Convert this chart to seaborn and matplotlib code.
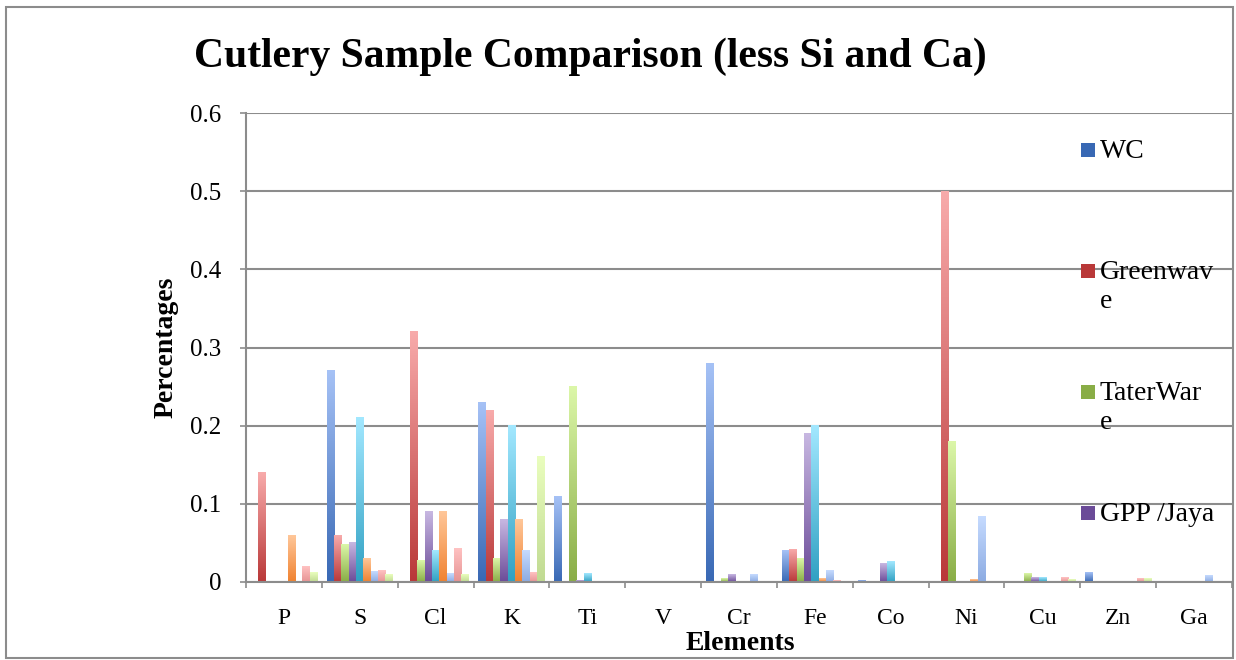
import numpy as np
import pandas as pd
import matplotlib
matplotlib.use("Agg")
import matplotlib.pyplot as plt
import seaborn as sns
from matplotlib.colors import LinearSegmentedColormap
from matplotlib.patches import Rectangle

elements = ["P", "S", "Cl", "K", "Ti", "V", "Cr", "Fe", "Co", "Ni", "Cu", "Zn", "Ga"]

wc = [0, 0.27, 0, 0.23, 0.11, 0, 0.28, 0.04, 0.002, 0, 0, 0.012, 0]
greenwave = [0.14, 0.06, 0.32, 0.22, 0, 0, 0, 0.042, 0, 0.5, 0, 0, 0]
taterware = [0, 0.048, 0.027, 0.03, 0.25, 0, 0.005, 0.03, 0, 0.18, 0.011, 0, 0]
gpp_jaya = [0, 0.05, 0.09, 0.08, 0.002, 0, 0.009, 0.19, 0.024, 0, 0.006, 0, 0]
sample5 = [0, 0.21, 0.04, 0.2, 0.011, 0, 0, 0.2, 0.026, 0, 0.006, 0, 0]
sample6 = [0.06, 0.03, 0.09, 0.08, 0, 0, 0, 0.004, 0, 0.003, 0, 0, 0]
sample7 = [0, 0.013, 0.011, 0.04, 0, 0, 0.009, 0.015, 0, 0.084, 0, 0, 0.008]
sample8 = [0.02, 0.015, 0.043, 0.012, 0.001, 0, 0, 0.002, 0, 0, 0.006, 0.004, 0]
sample9 = [0.012, 0.01, 0.009, 0.16, 0, 0, 0, 0, 0, 0, 0.003, 0.004, 0]

series_names = ["WC", "Greenwave", "TaterWare", "GPP /Jaya",
                "Sample 5", "Sample 6", "Sample 7", "Sample 8", "Sample 9"]
series_values = [wc, greenwave, taterware, gpp_jaya,
                 sample5, sample6, sample7, sample8, sample9]

# bottom / top colours of the Excel style gradient bars
grad_colors = [
    ("#3868b4", "#a6c2f6"),
    ("#b93838", "#f8abab"),
    ("#89ad46", "#dcf7a9"),
    ("#6b4b98", "#c8b8e2"),
    ("#30a0c2", "#a3e8ff"),
    ("#f08230", "#ffc79a"),
    ("#8cabe2", "#c6dbff"),
    ("#e69494", "#ffc2c2"),
    ("#c0da92", "#eafebe"),
]

rows = []
for name, vals in zip(series_names, series_values):
    for el, v in zip(elements, vals):
        rows.append({"Element": el, "Sample": name, "Value": v})
df = pd.DataFrame(rows)

sns.set_style("white")
plt.rcParams["font.family"] = ["Liberation Serif", "DejaVu Serif"]
plt.rcParams["text.color"] = "black"
plt.rcParams["xtick.labelcolor"] = "black"
plt.rcParams["ytick.labelcolor"] = "black"

W, H = 1236, 660
fig = plt.figure(figsize=(W / 100, H / 100), dpi=100)
ax = fig.add_axes([246 / W, 1 - 582 / H, (1232 - 246) / W, (582 - 113) / H])

palette = [c[1] for c in grad_colors]
sns.barplot(data=df, x="Element", y="Value", hue="Sample", order=elements,
            hue_order=series_names, palette=palette, width=0.87,
            legend=False, ax=ax, saturation=1)

grad = np.linspace(0, 1, 256).reshape(-1, 1)
for cont, (lo, hi) in zip(ax.containers, grad_colors):
    cmap = LinearSegmentedColormap.from_list("g", [lo, hi])
    for bar in cont:
        h = bar.get_height()
        bar.set_facecolor("none")
        bar.set_edgecolor("none")
        if not h or h <= 0:
            continue
        x0 = bar.get_x()
        w = bar.get_width()
        ax.imshow(grad, cmap=cmap, origin="lower", aspect="auto",
                  extent=[x0, x0 + w, 0, h], zorder=2, interpolation="bilinear")

ax.set_xlim(-0.5, len(elements) - 0.5)
ax.set_ylim(0, 0.6)
ax.set_yticks(np.arange(0, 0.61, 0.1))
ax.set_yticklabels(["0", "0.1", "0.2", "0.3", "0.4", "0.5", "0.6"])
ax.set_xlabel("")
ax.set_ylabel("")

ax.set_axisbelow(True)
ax.yaxis.grid(True, color="#8c8c8c", linewidth=1.5)
for side in ["top", "right"]:
    ax.spines[side].set_visible(False)
for side in ["left", "bottom"]:
    ax.spines[side].set_color("#8c8c8c")
    ax.spines[side].set_linewidth(1.5)

ax.tick_params(axis="y", which="major", length=4.5, width=1.2, color="#8c8c8c",
               pad=13, labelsize=18, left=True, labelcolor="black")
ax.set_xticks(np.arange(-0.5, len(elements), 1.0), minor=True)
ax.tick_params(axis="x", which="minor", length=4.5, width=1.2, color="#8c8c8c",
               bottom=True)
ax.tick_params(axis="x", which="major", length=0, pad=19, labelsize=17,
               labelcolor="black")

fig.text(590 / W, 1 - 57 / H, "Cutlery Sample Comparison (less Si and Ca)",
         ha="center", va="center", fontsize=30, fontweight="bold")
fig.text(166 / W, 1 - 347 / H, "Percentages", rotation=90, ha="center",
         va="center", fontsize=20, fontweight="bold")
fig.text(740 / W, 1 - 644 / H, "Elements", ha="center", va="center",
         fontsize=20, fontweight="bold")

# legend (only the first four entries fit in the chart, the rest are cut off)
legend_labels = ["WC", "Greenwav\ne", "TaterWar\ne", "GPP /Jaya"]
legend_y = [150, 271, 392, 513]
for (lo, hi), lab, y in zip(grad_colors, legend_labels, legend_y):
    fig.patches.append(Rectangle((1081 / W, 1 - (y + 7) / H), 14 / W, 14 / H,
                                 transform=fig.transFigure, facecolor=lo,
                                 edgecolor="none"))
    fig.text(1100 / W, 1 - (y - 11) / H, lab, ha="left", va="top",
             fontsize=20, linespacing=1.2)

fig.patches.append(Rectangle((6 / W, 1 - 658 / H), (1233 - 6) / W, (658 - 7) / H,
                             transform=fig.transFigure, facecolor="none",
                             edgecolor="#8c8c8c", linewidth=1.5))

fig.savefig("out.png", dpi=100)
